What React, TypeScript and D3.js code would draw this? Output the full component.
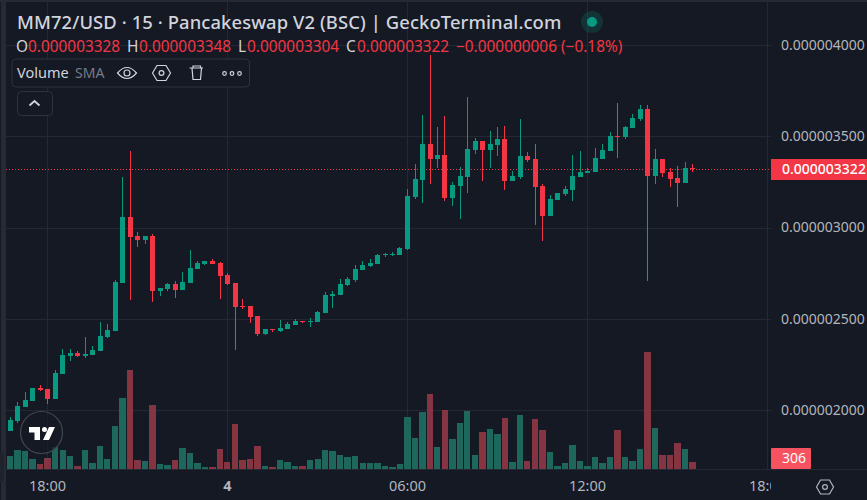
import React from 'react';
import * as d3 from 'd3';

// prices are in units of 1e-9 USD
const opens = [1885,1940,2016,2050,2121,2116,2060,2197,2296,2313,2296,2302,2323,2400,2433,2696,3058,2954,2932,2954,2652,2663,2691,2658,2696,2773,2800,2817,2806,2740,2696,2570,2570,2515,2417,2444,2433,2444,2466,2488,2482,2482,2532,2625,2630,2685,2713,2767,2789,2800,2850,2850,2850,2882,3167,3260,3457,3375,3397,3162,3227,3277,3425,3474,3425,3452,3485,3255,3277,3392,3375,3227,3063,3151,3184,3206,3277,3299,3304,3375,3419,3501,3496,3545,3595,3650,3282,3375,3304,3271,3244,3328];
const highs = [1962,2044,2099,2121,2137,2116,2219,2334,2334,2323,2400,2351,2482,2471,2713,3277,3419,2976,2954,2965,2669,2696,2707,2756,2877,2817,2817,2828,2811,2751,2696,2608,2570,2515,2444,2444,2493,2482,2499,2488,2504,2543,2647,2652,2718,2729,2795,2817,2828,2855,2861,2866,2893,3211,3348,3617,3945,3551,3611,3249,3331,3715,3490,3474,3529,3551,3556,3310,3595,3414,3457,3238,3178,3189,3227,3397,3419,3326,3436,3457,3523,3682,3556,3622,3671,3671,3430,3375,3326,3337,3359,3348];
const lows = [1885,1929,2016,2050,2104,2033,2060,2197,2269,2291,2285,2302,2323,2395,2433,2696,2603,2893,2910,2592,2625,2652,2614,2658,2696,2773,2795,2800,2608,2685,2329,2554,2477,2406,2411,2427,2427,2444,2466,2477,2455,2482,2532,2559,2630,2680,2702,2767,2784,2800,2839,2844,2850,2877,3156,3134,3238,3326,3145,3118,3047,3189,3403,3255,3326,3392,3206,3255,3266,3359,3014,2926,3063,3151,3173,3145,3277,3299,3304,3375,3419,3381,3485,3545,3584,2707,3238,3277,3222,3112,3244,3304];
const closes = [1945,2022,2055,2121,2110,2060,2203,2302,2313,2296,2307,2329,2406,2438,2702,3058,2948,2932,2954,2652,2669,2691,2658,2702,2778,2806,2817,2800,2735,2691,2565,2562,2509,2417,2444,2438,2449,2471,2488,2482,2488,2537,2630,2636,2691,2718,2773,2795,2806,2850,2855,2855,2888,3173,3266,3457,3375,3397,3162,3233,3282,3430,3474,3425,3457,3485,3255,3282,3392,3370,3222,3063,3156,3189,3211,3282,3304,3310,3381,3425,3501,3496,3551,3600,3650,3282,3375,3299,3266,3244,3326,3322];
const volumes = [585,850,805,453,233,497,968,850,585,145,850,277,1025,453,1905,3137,4356,409,365,2829,233,189,409,937,717,277,101,101,893,321,1993,409,453,1025,145,101,409,321,145,145,409,453,849,805,629,541,585,277,277,277,145,101,233,2301,1377,2521,3313,981,2609,1333,2037,2565,629,1628,1760,1540,2244,306,2376,352,2200,1716,748,132,264,1056,352,132,528,264,528,1716,528,352,880,5148,1804,616,616,1144,880,306];

const priceTicks = [4000, 3500, 3000, 2500, 2000];
const timeTicks = [
  { bar: 5, label: '18:00' },
  { bar: 29, label: '4' },
  { bar: 53, label: '06:00' },
  { bar: 77, label: '12:00' },
  { bar: 101, label: '18:00' },
];

const lastPrice = closes[closes.length - 1];
const lastVolume = volumes[volumes.length - 1];

const BG = '#151924';
const GRID = '#242833';
const GREEN = '#089981';
const RED = '#f23645';
const AXIS_TEXT = '#b2b5be';
const FONT = '"Noto Sans", Roboto, sans-serif';

const fmt = (v: number) => (v / 1e9).toFixed(9);

const App: React.FC = () => {
  const x = d3.scaleLinear().domain([0, 91]).range([10, 692.5]);
  const y = d3.scaleLinear().domain([2000, 4000]).range([410, 45]);
  const vy = d3.scaleLinear().domain([0, 5148]).range([469, 352]);

  const barX = (i: number) => Math.floor(x(i));
  const lastY = Math.round(y(lastPrice));

  const ohlcRow = [
    { label: 'O', lx: 16, vx: 28, value: opens[91] },
    { label: 'H', lx: 127, vx: 139, value: highs[91] },
    { label: 'L', lx: 238, vx: 247, value: lows[91] },
    { label: 'C', lx: 346, vx: 357, value: closes[91] },
  ];

  return (
    <svg
      width={867}
      height={500}
      style={{ position: 'fixed', left: 0, top: 0, display: 'block', fontFamily: FONT }}
    >
      <defs>
        <clipPath id="timeClip">
          <rect x={0} y={470} width={771} height={30} />
        </clipPath>
      </defs>
      <rect width={867} height={500} fill={BG} />
      <rect width={867} height={2} fill="#262a35" />
      <rect x={1} width={5} height={500} fill="#262a35" />

      {/* grid */}
      <g shapeRendering="crispEdges" stroke={GRID}>
        {priceTicks.map(t => (
          <line key={t} x1={6} x2={771} y1={Math.round(y(t)) + 0.5} y2={Math.round(y(t)) + 0.5} />
        ))}
        {timeTicks.map(t => (
          <line key={t.bar} x1={Math.floor(x(t.bar)) + 0.5} x2={Math.floor(x(t.bar)) + 0.5} y1={2} y2={469} />
        ))}
        <line x1={6} x2={867} y1={469.5} y2={469.5} />
      </g>

      {/* volume */}
      <g shapeRendering="crispEdges">
        {volumes.map((v, i) => {
          const left = Math.ceil(x(i) - 3.5);
          const right = Math.floor(x(i) + 3.5);
          const top = Math.round(vy(v));
          return (
            <rect
              key={i}
              x={left}
              y={top}
              width={right - left}
              height={469 - top}
              fill={closes[i] >= opens[i] ? '#1d6b60' : '#8b3644'}
              fillOpacity={0.95}
            />
          );
        })}
      </g>

      {/* last price line */}
      <line x1={6} x2={771} y1={lastY + 0.5} y2={lastY + 0.5} stroke={RED} strokeDasharray="1 2" shapeRendering="crispEdges" />

      {/* candles */}
      <g shapeRendering="crispEdges">
        {opens.map((o, i) => {
          const c = closes[i];
          const col = c >= o ? GREEN : RED;
          const top = Math.round(y(Math.max(o, c)));
          const bot = Math.round(y(Math.min(o, c)));
          return (
            <g key={i} fill={col}>
              <rect x={barX(i)} y={Math.round(y(highs[i]))} width={1} height={Math.max(1, Math.round(y(lows[i])) - Math.round(y(highs[i])))} />
              <rect x={barX(i) - 2} y={top} width={5} height={Math.max(1, bot - top)} />
            </g>
          );
        })}
      </g>

      {/* price axis */}
      <g fontSize={14} fill={AXIS_TEXT}>
        {priceTicks.map(t => (
          <text key={t} x={781} y={y(t)} dy="0.35em">{fmt(t)}</text>
        ))}
      </g>
      <rect x={771} y={lastY - 10} width={96} height={21} fill={RED} />
      <text x={782} y={lastY + 0.5} dy="0.35em" fontSize={14} fontWeight={500} fill="#fff">{fmt(lastPrice)}</text>
      <rect x={771} y={448} width={40} height={21} rx={1} fill="#f7525f" />
      <text x={782} y={458.5} dy="0.35em" fontSize={14} fill="#fff">{lastVolume}</text>

      {/* time axis */}
      <g fontSize={14.5} fill={AXIS_TEXT} textAnchor="middle" clipPath="url(#timeClip)">
        {timeTicks.map(t => (
          <text key={t.bar} x={x(t.bar)} y={486} dy="0.35em" fontWeight={t.label === '4' ? 700 : 400}>{t.label}</text>
        ))}
      </g>
      <g transform="translate(825,487)" fill="none" stroke={AXIS_TEXT} strokeWidth={1.2}>
        <path d="M-8.5 0 L-4.5 -7 H4.5 L8.5 0 L4.5 7 H-4.5 Z" />
        <circle r={2.4} />
      </g>

      {/* legend */}
      <text x={17} y={23} dy="0.35em" fontSize={18.4} fontWeight={500} fill="#d1d4dc" letterSpacing={0.1}>
        MM72/USD · 15 · Pancakeswap V2 (BSC) | GeckoTerminal.com
      </text>
      <circle cx={592} cy={22} r={11} fill={GREEN} fillOpacity={0.2} />
      <circle cx={592} cy={22} r={5} fill={GREEN} />
      <g fontSize={15.4}>
        {ohlcRow.map(d => (
          <React.Fragment key={d.label}>
            <text x={d.lx} y={47} dy="0.35em" fill="#d1d4dc">{d.label}</text>
            <text x={d.vx} y={47} dy="0.35em" fill={RED}>{fmt(d.value)}</text>
          </React.Fragment>
        ))}
        <text x={456} y={47} dy="0.35em" fill={RED}>−0.000000006</text>
        <text x={561} y={47} dy="0.35em" fill={RED}>(−0.18%)</text>
      </g>

      {/* volume study row */}
      <rect x={12} y={59} width={237.5} height={28} rx={4} fill={BG} stroke="#2e323d" />
      <text x={17} y={73} dy="0.35em" fontSize={14.5} fill="#d1d4dc">Volume</text>
      <text x={75} y={73} dy="0.35em" fontSize={14} fill="#787b86">SMA</text>
      <g fill="none" stroke="#d1d4dc" strokeWidth={1.2}>
        <path d="M117.5 73 Q127 62 136.5 73 Q127 84 117.5 73 Z" />
        <circle cx={127} cy={73} r={3} />
        <path d="M152.5 73 L157 65.5 H166 L170.5 73 L166 80.5 H157 Z" />
        <circle cx={161.5} cy={73} r={2.4} />
        <path d="M189.5 68 H203 M192 68 L193 79.5 H200.5 L201.5 68 M193 68 V66 H200.5 V68" />
        <circle cx={224.5} cy={73.5} r={1.8} />
        <circle cx={232} cy={73.5} r={1.8} />
        <circle cx={239.5} cy={73.5} r={1.8} />
      </g>
      <rect x={17.5} y={91.5} width={35} height={24} rx={4} fill={BG} stroke="#2e323d" />
      <path d="M29.5 105.5 L34.5 101 L39.5 105.5" fill="none" stroke="#d1d4dc" strokeWidth={1.8} />

      {/* logo */}
      <circle cx={41.5} cy={432.5} r={21} fill={BG} fillOpacity={0.75} stroke="#43464f" strokeWidth={1.2} />
      <path d="M29 427 H40 V440 H34.5 V432.5 H29 Z M49 427 H55 L49 440 H43 Z" fill="#fff" />
      <circle cx={44.5} cy={429.5} r={2.5} fill="#fff" />

      {/* scroll tab */}
      <rect x={-4} y={452} width={8} height={30} rx={3} fill="#1f232e" />
    </svg>
  );
};

export default App;
